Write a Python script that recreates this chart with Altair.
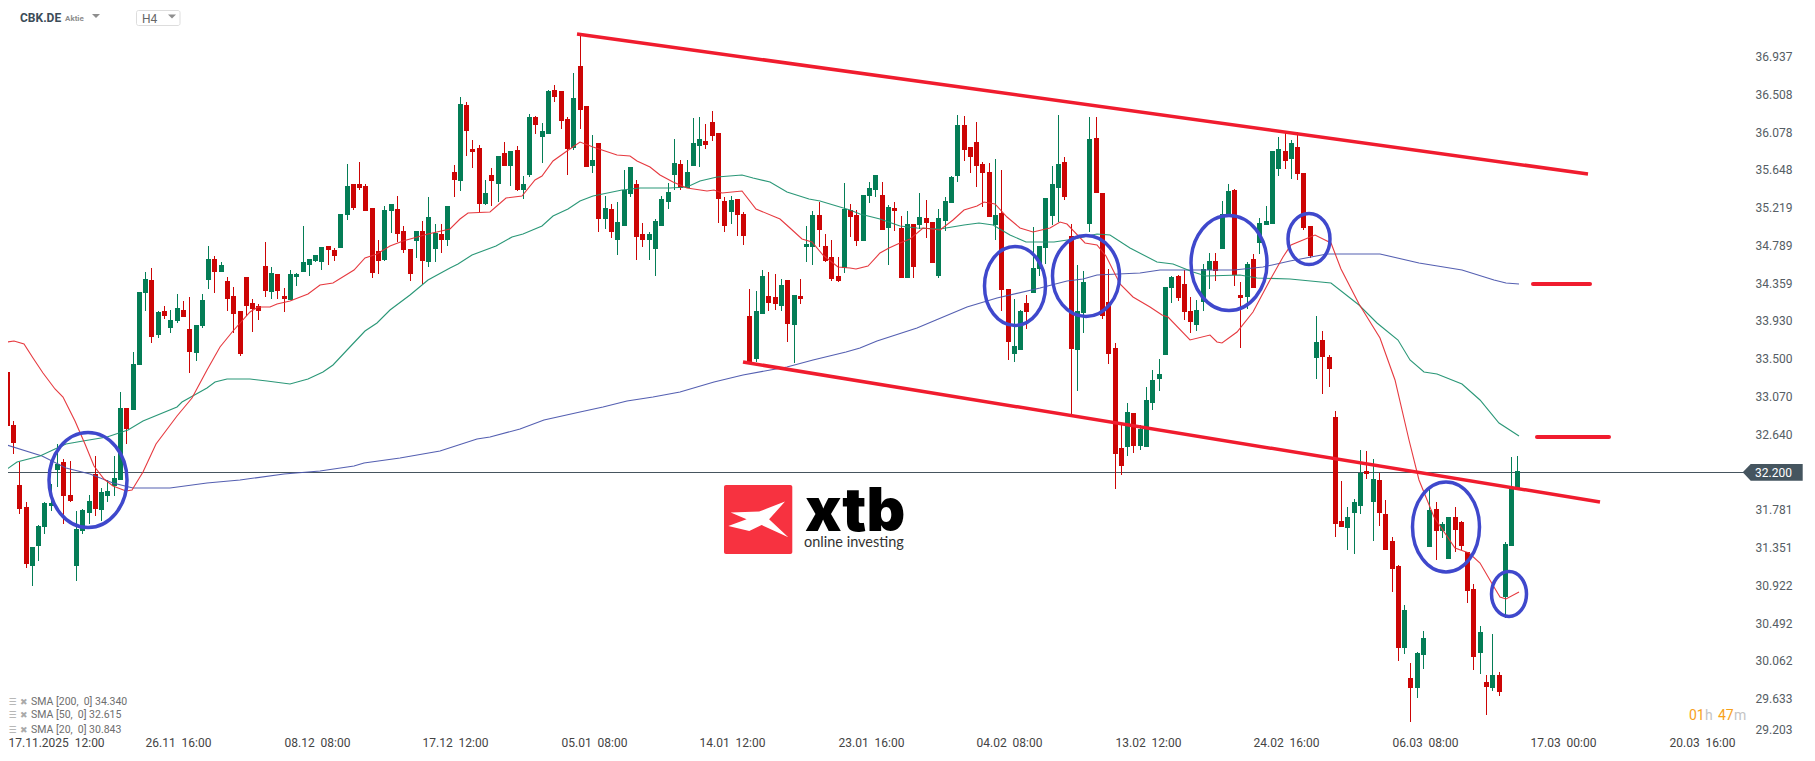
import json
import altair as alt
import pandas as pd

# ---- candles ----
direction = ("RRRRGGGGGR" "RGGGRGGGGR" "GGGRGRGGRR" "GGGRGRRRRR" "RRGRRGGGGG" "GRRGGRRRRR"
             "GGRRRGRGGR" "GRGRRRGRGR" "GRGGRGGRRR" "GRRGRGRGGG" "RRGGGGGRGG" "GRRRRGRRRG"
             "GRRGRGRGGR" "RRRGRRGGGR" "GRRGRGRRGG" "GGRRRRRGRR" "GGRGGGGGRR" "GGGRRRRRGR"
             "GGGGGGRRRG" "GGRGGRRGRG" "GGGRGRRRGR" "RRRGGGRGRR" "RRGRGGGRGG" "RRRRGRGRGGG")
highs = [33.34,32.79,32.32,31.86,31.35,31.60,31.87,32.07,32.52,32.35,
 32.33,31.76,31.79,31.95,32.39,32.02,32.11,32.39,33.12,32.93,
 33.57,34.25,34.48,34.53,34.04,34.09,34.05,34.23,34.15,34.20,
 33.88,34.23,34.78,34.66,34.60,34.42,34.31,34.04,34.42,34.18,
 34.12,34.82,34.54,34.46,34.30,34.51,34.47,35.01,34.63,34.68,
 34.77,34.78,34.75,35.14,35.71,35.48,35.73,35.48,35.21,34.85,
 35.23,35.26,35.35,35.01,34.74,34.95,35.06,35.33,35.03,35.03,
 35.23,35.70,36.47,36.41,35.98,35.93,35.53,35.66,35.80,35.96,
 35.86,35.91,35.57,36.28,36.26,36.18,36.55,36.61,36.54,36.24,
 36.74,37.19,36.37,36.04,35.95,35.35,35.25,35.28,35.64,35.68,
 35.53,35.04,34.94,35.08,35.35,35.49,35.99,35.76,35.76,36.23,
 36.24,36.16,36.31,36.06,35.33,35.35,35.31,35.16,34.29,34.27,
 34.50,34.48,34.46,34.40,34.39,34.22,34.40,35.00,35.17,35.28,
 34.91,34.85,34.65,35.49,35.25,35.19,35.36,35.51,35.58,35.51,
 35.24,35.28,35.12,35.18,35.03,35.38,35.30,35.05,35.20,35.33,
 35.57,36.27,36.26,35.90,36.19,35.73,35.72,35.77,35.64,34.29,
 34.17,34.05,34.22,34.99,34.78,35.32,35.69,36.27,35.79,35.03,
 34.56,34.49,36.24,36.24,35.38,34.52,33.67,32.74,32.99,32.88,
 32.74,33.17,33.37,33.49,34.31,34.44,34.45,34.50,34.20,34.16,
 34.57,34.70,34.70,35.29,35.48,35.43,34.37,34.59,34.69,35.10,
 35.23,35.86,36.02,36.06,35.98,36.08,35.61,35.00,33.98,33.81,
 33.54,32.90,32.10,31.81,31.90,32.46,32.45,32.35,32.19,31.89,
 31.47,31.15,30.69,30.03,30.16,30.40,32.01,31.86,31.64,31.70,
 31.81,31.65,31.30,30.93,30.45,29.90,30.36,29.93,31.41,32.38,32.39]
body_tops = [33.34,32.74,32.06,31.81,31.35,31.59,31.85,31.85,32.30,32.32,
 31.94,31.56,31.77,31.88,32.18,31.98,31.99,32.14,32.94,32.93,
 33.43,34.25,34.40,34.39,34.03,34.04,33.94,34.07,34.05,33.83,
 33.88,34.16,34.63,34.63,34.56,34.38,34.21,34.04,34.42,34.13,
 34.09,34.55,34.47,34.46,34.21,34.46,34.46,34.59,34.63,34.68,
 34.77,34.78,34.73,35.14,35.46,35.48,35.48,35.46,35.21,34.72,
 35.19,35.26,35.20,34.95,34.74,34.95,34.95,35.11,34.92,34.91,
 35.23,35.62,36.39,36.38,35.88,35.89,35.38,35.59,35.80,35.83,
 35.86,35.87,35.48,36.24,36.24,36.09,36.54,36.55,36.54,36.22,
 36.46,36.83,36.37,35.76,35.95,35.21,35.20,35.05,35.41,35.68,
 35.48,34.91,34.91,35.06,35.31,35.39,35.72,35.71,35.62,35.95,
 35.99,35.97,36.19,36.06,35.29,35.30,35.31,35.14,33.98,34.04,
 34.44,34.21,34.20,34.33,34.39,34.22,34.21,34.80,35.13,35.13,
 34.78,34.65,34.44,35.20,35.19,35.13,35.36,35.44,35.58,35.36,
 35.22,35.21,34.98,35.03,35.03,35.11,35.10,35.05,35.10,35.29,
 35.56,36.15,36.15,35.90,35.96,35.71,35.62,35.13,35.15,34.29,
 33.64,34.04,34.13,34.53,34.78,35.32,35.48,35.71,35.73,34.89,
 34.04,34.37,35.99,36.01,35.38,34.14,33.62,32.48,32.89,32.88,
 32.69,33.02,33.25,33.32,34.31,34.42,34.44,34.34,34.04,34.05,
 34.52,34.61,34.61,35.14,35.40,35.41,34.22,34.57,34.63,35.04,
 35.06,35.86,35.88,35.86,35.95,35.90,35.61,35.00,33.68,33.71,
 33.51,32.83,31.65,31.70,31.86,32.20,32.22,32.13,32.12,31.73,
 31.42,31.14,30.64,29.86,30.15,30.32,31.77,31.78,31.61,31.70,
 31.70,31.64,31.30,30.87,30.39,29.82,29.90,29.90,31.39,32.03,32.22]
body_bottoms = [32.73,32.54,31.79,31.16,31.14,31.36,31.58,31.82,32.23,31.93,
 31.88,31.14,31.53,31.74,31.78,31.77,31.93,32.05,32.12,32.69,
 32.91,33.42,34.24,33.74,33.77,33.98,33.85,33.92,33.97,33.57,
 33.56,33.87,34.39,34.48,34.48,34.18,34.00,33.55,34.09,34.06,
 34.04,34.27,34.25,34.27,34.17,34.16,34.42,34.48,34.56,34.61,
 34.59,34.73,34.66,34.75,35.13,35.21,35.44,35.18,34.47,34.61,
 34.62,35.18,34.91,34.73,34.46,34.83,34.61,34.59,34.74,34.85,
 34.85,35.53,35.52,36.09,35.85,35.26,35.25,35.52,35.48,35.69,
 35.69,35.42,35.42,35.59,36.15,36.02,36.05,36.47,36.20,35.88,
 35.89,36.33,35.68,35.69,35.08,35.08,34.94,34.85,35.01,35.37,
 34.88,34.85,34.85,34.74,35.01,35.28,35.59,35.44,35.44,35.69,
 35.91,35.93,36.03,35.31,35.00,35.16,35.13,34.89,33.46,33.49,
 34.00,34.13,34.12,34.10,33.89,33.88,34.17,34.77,34.77,34.96,
 34.61,34.40,34.38,34.53,35.11,34.83,34.83,35.35,35.42,34.96,
 34.98,35.18,34.41,34.41,34.54,35.02,35.04,34.58,34.44,35.06,
 35.27,35.57,35.87,35.79,35.69,35.61,35.11,35.02,34.28,33.68,
 33.55,33.59,34.03,34.24,34.52,34.75,35.12,35.44,35.33,33.60,
 33.59,34.01,35.03,35.38,33.98,33.55,32.41,32.27,32.49,32.50,
 32.50,32.49,32.99,33.27,33.54,34.30,34.19,34.03,33.91,33.88,
 34.14,34.50,34.49,34.74,35.14,34.45,34.19,34.20,34.30,34.81,
 35.02,35.03,35.65,35.74,35.77,35.60,34.98,34.66,33.50,33.52,
 33.38,31.61,31.58,31.57,31.74,31.82,32.18,31.86,31.74,31.32,
 31.10,30.20,30.20,29.75,29.75,30.12,31.35,31.53,31.53,31.22,
 31.55,31.36,30.85,30.10,30.15,29.76,29.75,29.70,30.78,31.36,32.03]
lows = [32.50,32.41,31.73,31.11,30.91,31.19,31.50,31.76,32.04,31.62,
 31.87,30.97,31.50,31.62,31.71,31.65,31.86,31.93,32.11,32.52,
 32.91,33.42,34.04,33.67,33.73,33.95,33.79,33.90,33.97,33.33,
 33.47,33.84,34.29,34.24,34.48,34.04,33.79,33.53,33.98,33.80,
 33.94,34.20,34.17,34.18,34.03,34.16,34.32,34.48,34.44,34.59,
 34.50,34.56,34.61,34.75,35.07,35.19,35.41,35.18,34.41,34.46,
 34.61,34.93,34.82,34.70,34.38,34.64,34.35,34.54,34.59,34.70,
 34.78,35.33,35.40,35.80,35.66,35.16,35.24,35.23,35.28,35.69,
 35.46,35.40,35.31,35.56,36.05,35.72,36.05,36.41,36.11,35.59,
 35.87,36.11,35.68,35.61,34.94,34.97,34.87,34.68,35.01,35.33,
 34.62,34.77,34.62,34.44,35.01,35.20,35.41,35.41,35.44,35.69,
 35.68,35.88,35.97,35.04,34.94,35.03,34.89,34.79,33.46,33.46,
 34.00,34.04,34.05,34.04,33.68,33.45,34.12,34.59,34.56,34.77,
 34.59,34.38,34.37,34.47,34.88,34.78,34.83,35.27,35.34,34.96,
 34.56,34.95,34.41,34.41,34.41,34.97,34.87,34.58,34.41,34.95,
 35.27,35.50,35.74,35.61,35.45,35.22,35.11,34.85,34.04,33.48,
 33.46,33.59,33.83,34.24,34.44,34.57,35.02,35.05,35.30,32.85,
 33.13,33.79,34.94,35.38,33.95,33.43,32.01,32.17,32.39,32.42,
 32.46,32.49,32.91,33.13,33.54,34.13,34.15,33.94,33.79,33.81,
 34.04,34.29,34.38,34.74,35.14,34.32,33.62,34.06,34.30,34.69,
 35.02,35.03,35.57,35.65,35.54,35.53,34.96,34.64,33.27,33.09,
 33.17,31.47,31.58,31.32,31.27,31.73,32.13,31.42,31.59,31.32,
 30.84,30.06,30.14,29.36,29.63,29.96,31.35,31.20,31.45,31.22,
 31.30,31.32,30.72,29.95,29.91,29.44,29.71,29.66,30.55,31.36,32.02]

# ---- moving averages: candle position, value ----
sma20_pos = [0,1.1,2.8,4.2,5.8,7.7,9,10.9,12.4,13.9,15.4,16.9,19,19.9,21.7,23.8,27,29.4,31.8,33.9,36,38.7,40,41.8,42.9,45,47.9,49.8,51.9,55.1,56.9,58.8,60.9,63,67,70.4,72,73.3,76.8,79.4,81.8,83.9,85,86.8,89,91.1,93.2,96.9,99,100.1,102.2,103.8,105.9,108,111.2,112.3,113.6,116.8,119.1,122.8,124.4,126.3,127.9,129.7,132.1,134,135,136.9,138.7,140.1,141.9,143.5,145.6,148.3,150.4,152,154.1,155.2,157,158.9,161,163.1,165.7,167.3,168.4,171.3,173.2,174.7,176.9,179,181.6,183.5,184.5,188,191.2,192.2,193,195.4,198,200.7,202.8,204.1,207.9,210.3,212,214.8,218.2,220.5,222.7,224.4,226.7,230,232.3,234,236.2,237.3,238.2,240.2]
sma20_val = [33.69,33.70,33.66,33.50,33.33,33.15,33.06,32.79,32.52,32.28,32.13,32.05,31.99,32.00,32.21,32.52,32.84,33.05,33.37,33.63,33.81,34.03,34.08,34.08,34.12,34.15,34.23,34.33,34.36,34.50,34.64,34.69,34.78,34.83,34.91,34.97,35.09,35.15,35.16,35.32,35.35,35.53,35.57,35.75,35.86,35.96,35.90,35.81,35.80,35.75,35.68,35.58,35.51,35.44,35.40,35.41,35.38,35.40,35.20,35.09,34.98,34.86,34.82,34.68,34.54,34.53,34.52,34.55,34.70,34.75,34.81,34.86,34.98,34.96,35.07,35.19,35.23,35.28,35.26,35.11,34.98,34.94,34.98,35.05,35.03,34.81,34.79,34.66,34.35,34.20,34.08,33.99,33.97,33.71,33.76,33.68,33.67,33.80,34.03,34.39,34.65,34.79,34.90,34.81,34.52,34.12,33.73,33.25,32.57,32.11,31.70,31.34,31.28,31.17,30.90,30.78,30.76,30.84]
sma50_pos = [0,1.6,5.3,7.7,9.5,12.2,15.9,19.3,21.7,27,27.8,31.8,33.1,35,38.7,41.3,45,47.9,50.3,51.9,54.3,56.9,58.8,60.9,64.1,67,70.4,71.7,73.9,77.8,80.2,82.1,85,86.8,89.2,91.1,93.2,97.7,100.6,105.4,108,110.1,112.8,116.8,118.6,121.3,123.9,127.4,129.2,134,135.6,138.7,141.9,144.6,148.3,152,154.4,156.7,159.4,162,166.3,169.5,173.2,175.3,178.5,182.7,185.3,188.5,190.6,195.9,198.6,203.9,210.3,214.8,217.7,221,223,225.2,227.2,231.2,234,237.1,240.2]
sma50_val = [32.24,32.32,32.39,32.47,32.52,32.56,32.61,32.68,32.79,32.95,33.00,33.16,33.23,33.26,33.27,33.24,33.21,33.26,33.34,33.42,33.61,33.81,33.90,34.05,34.22,34.39,34.53,34.57,34.67,34.78,34.88,34.91,35.01,35.12,35.20,35.29,35.35,35.41,35.44,35.44,35.45,35.52,35.56,35.59,35.55,35.51,35.39,35.31,35.29,35.19,35.14,35.09,35.01,34.98,34.97,35.02,35.04,35.02,34.90,34.82,34.82,34.86,34.91,34.90,34.75,34.60,34.57,34.48,34.44,34.45,34.41,34.40,34.36,34.11,33.90,33.71,33.48,33.34,33.32,33.21,33.03,32.76,32.62]
sma200_pos = [0,5.6,9.5,13.2,16.9,20.1,25.9,31.8,37.1,44,49.8,55.1,56.7,62.5,68.8,74.7,76.8,81.5,85.3,91.1,94.8,98.5,102.7,107,112.3,117,123.9,128.1,133.4,135.6,138.2,144.6,147.7,152.5,157.3,164.2,168.4,171,173.2,180,183.2,190.6,194.9,199.6,203.9,209.8,218.2,224.4,231.2,236.2,238.2,240.2]
sma200_val = [32.51,32.39,32.25,32.18,32.08,32.02,32.02,32.08,32.11,32.18,32.22,32.27,32.31,32.37,32.44,32.58,32.61,32.70,32.80,32.89,32.95,33.01,33.06,33.12,33.23,33.31,33.40,33.48,33.57,33.62,33.70,33.85,33.93,34.08,34.19,34.30,34.38,34.40,34.45,34.47,34.50,34.50,34.50,34.54,34.61,34.69,34.69,34.58,34.51,34.39,34.36,34.35]

# ---- drawn annotations ----
line_start_pos = [90.55, 117.0, 242.4, 243.1]
line_end_pos = [251.2, 253.1, 251.6, 254.5]
line_start_val = [37.19, 33.46, 34.34, 32.60]
line_end_val = [35.60, 31.87, 34.34, 32.60]
line_kinds = ["trend", "trend", "target", "target"]

ring_pos = [12.87, 160.2, 171.5, 194.2, 206.9, 228.6, 238.6]
ring_val = [32.115, 34.318, 34.441, 34.587, 34.862, 31.58, 30.818]
ring_wide = [78, 61, 67, 76, 42, 67, 35]
ring_tall = [95, 79, 81, 95, 51, 90, 45]

# ---- axes and texts ----
price_ticks = [37.366, 36.937, 36.508, 36.078, 35.648, 35.219, 34.789, 34.359, 33.93, 33.5, 33.07,
               32.64, 31.781, 31.351, 30.922, 30.492, 30.062, 29.633, 29.203]
x_ticks = [0.25] + [22 * k for k in range(1, 13)]
SP = "\u00a0\u00a0"
x_labels = [f"17.11.2025{SP}12:00", f"26.11{SP}16:00", f"08.12{SP}08:00", f"17.12{SP}12:00", f"05.01{SP}08:00",
            f"14.01{SP}12:00", f"23.01{SP}16:00", f"04.02{SP}08:00", f"13.02{SP}12:00", f"24.02{SP}16:00",
            f"06.03{SP}08:00", f"17.03{SP}00:00", f"20.03{SP}16:00"]
legend_rows = [f"SMA\u00a0[200,{SP}0]\u00a034.340", f"SMA\u00a0[50,{SP}0]\u00a032.615", f"SMA\u00a0[20,{SP}0]\u00a030.843"]
last_price = 32.2

RED, GREEN = "#cc0505", "#047d56"
FONT = "Roboto"
X_DOM = [0.211, 276.94]
Y_DOM = [29.203, 37.485]

n = len(direction)
assert all(len(a) == n for a in (highs, body_tops, body_bottoms, lows))
candles = pd.DataFrame({"pos": range(n), "high": highs, "top": body_tops, "bot": body_bottoms,
                        "low": lows, "dir": list(direction)})

x_axis = alt.Axis(values=x_ticks, labelExpr=json.dumps(x_labels) + "[round(datum.value/22)]",
                  labelAlign="left", labelFont=FONT, labelFontSize=12, labelColor="#444444",
                  labelPadding=1, labelOverlap=False, ticks=False, domain=False, grid=False, title=None)
y_axis = alt.Axis(values=price_ticks, orient="right", labelExpr="datum.value > 37 ? '' : format(datum.value, '.3f')",
                  labelAlign="left", labelFont=FONT, labelFontSize=12, labelColor="#555d64",
                  labelPadding=5, labelOverlap=False, labelFlush=True, ticks=False, domain=False, grid=False, title=None)
X = alt.X("pos:Q", scale=alt.Scale(domain=X_DOM, nice=False, zero=False, round=True, padding=0), axis=x_axis)
Y = alt.Y("v:Q", scale=alt.Scale(domain=Y_DOM, nice=False, zero=False, round=True), axis=y_axis)
color = alt.Color("dir:N", scale=alt.Scale(domain=["G", "R"], range=[GREEN, RED]), legend=None)


def Yf(field):
    return alt.Y(field + ":Q", scale=alt.Scale(domain=Y_DOM, nice=False, zero=False, round=True), axis=y_axis)


wicks = alt.Chart(candles).mark_rule(strokeWidth=1, xOffset=0.5, clip=True).encode(
    x=X, y=Yf("low"), y2="high:Q", color=color)
bodies = alt.Chart(candles).mark_bar(size=5, xOffset=0.5, clip=True).encode(
    x=X, y=Yf("bot"), y2="top:Q", color=color)


def sma(pos, val, col):
    d = pd.DataFrame({"pos": pos, "v": val})
    return alt.Chart(d).mark_line(color=col, strokeWidth=1.1, opacity=0.95, clip=True).encode(x=X, y=Y)


sma_layers = [sma(sma200_pos, sma200_val, "#4b56ad"), sma(sma50_pos, sma50_val, "#1f9170"),
              sma(sma20_pos, sma20_val, "#e52e35")]

price_line = alt.Chart(pd.DataFrame({"v": [last_price]})).mark_rule(
    color="#46555f", strokeWidth=1, yOffset=-0.5).encode(x=alt.value(0), x2=alt.value(1737), y=Y)

lines = pd.DataFrame({"pos": line_start_pos, "pos2": line_end_pos, "v": line_start_val,
                      "v2": line_end_val, "kind": line_kinds})
trend = alt.Chart(lines[lines.kind == "trend"]).mark_rule(color="#f01c2e", strokeWidth=3.5).encode(
    x=X, x2="pos2:Q", y=Y, y2="v2:Q")
target = alt.Chart(lines[lines.kind == "target"]).mark_rule(color="#f01c2e", strokeWidth=4, strokeCap="round").encode(
    x=X, x2="pos2:Q", y=Y, y2="v2:Q")


def ellipse_path(w, h):
    m = max(w, h)
    a, b = round(w / m, 4), round(h / m, 4)
    return f"M{-a},0A{a},{b} 0 1,0 {a},0A{a},{b} 0 1,0 {-a},0Z"


rings = pd.DataFrame({"pos": ring_pos, "v": ring_val, "id": [str(i) for i in range(len(ring_pos))],
                      "area": [max(w, h) ** 2 for w, h in zip(ring_wide, ring_tall)]})
ring_layer = alt.Chart(rings).mark_point(filled=False, strokeWidth=3.5, color="#3f48cc", opacity=1).encode(
    x=X, y=Y, size=alt.Size("area:Q", scale=None),
    shape=alt.Shape("id:N", scale=alt.Scale(domain=list(rings.id),
                                            range=[ellipse_path(w, h) for w, h in zip(ring_wide, ring_tall)]),
                    legend=None))


def label(txt, px, py, size=12, col="#444444", font=FONT, weight="normal", baseline="middle"):
    d = pd.DataFrame({"t": [txt]})
    return alt.Chart(d).mark_text(align="left", baseline=baseline, font=font, fontSize=size, color=col,
                                  fontWeight=weight).encode(x=alt.value(px - 8), y=alt.value(py - 8), text="t:N")


def glyph(shape, px, py, size, col):
    d = pd.DataFrame({"t": [0]})
    return alt.Chart(d).mark_point(shape=shape, filled=True, size=size, color=col, opacity=1, strokeWidth=0).encode(
        x=alt.value(px - 8), y=alt.value(py - 8))


def box(x0, x1, y0, y1, fill, stroke=None, radius=2):
    d = pd.DataFrame({"t": [0]})
    kw = {"stroke": stroke, "strokeWidth": 1} if stroke else {}
    return alt.Chart(d).mark_rect(fill=fill, cornerRadius=radius, **kw).encode(
        x=alt.value(x0 - 8), x2=alt.value(x1 - 8), y=alt.value(y0 - 8), y2=alt.value(y1 - 8))


TAG = "M-1,0L-0.733,-0.278L1,-0.278L1,0.278L-0.733,0.278Z"
LOGO_X = "M-0.91,-0.23L0.04,-0.26L0.9,-0.59L0.37,0L1.01,0.6L0.12,0.19L-0.29,0.39L-0.99,0.22L-0.38,0Z"
CARET = "M-1,-0.5L1,-0.5L0,0.5Z"

decor = [
    label("CBK.DE", 20, 18, 12, "#3c4c58", weight="bold"),
    label("Aktie", 65, 18.5, 8, "#8e8e8e", weight="bold"),
    glyph(CARET, 96, 16, 64, "#8e8e8e"),
    box(136.5, 180, 10.5, 25.5, "#ffffff", "#dddddd"),
    label("H4", 142, 19, 12, "#666666"),
    glyph(CARET, 172, 16.5, 64, "#8e8e8e"),
    box(724, 792.3, 485, 554, "#f73240"),
    glyph(LOGO_X, 758, 519.3, 3600, "#ffffff"),
    label("xtb", 805, 531, 60, "#000000", font="Inter", weight=900, baseline="alphabetic"),
    label("online investing", 804, 542.7, 14.5, "#333333", font="Lato"),
    glyph(TAG, 1772.7, 472.3, 3600, "#45555f"),
    label(f"{last_price:.3f}", 1755, 472.8, 12, "#ffffff"),
    label("01", 1689, 716, 14, "#f7a11a"),
    label("h", 1705, 716, 14, "#c4c4c4"),
    label("47", 1718, 716, 14, "#f7a11a"),
    label("m", 1734, 716, 14, "#c4c4c4"),
]
for row, py in zip(legend_rows, [701.7, 715.3, 729.7]):
    decor += [label("\u2630", 8.5, py, 9, "#aaaaaa", font="DejaVu Sans"),
              label("\u2716", 20, py, 9, "#aaaaaa", font="DejaVu Sans"),
              label(row, 31, py, 10.5, "#6e6e6e")]

chart = alt.layer(price_line, wicks, bodies, *sma_layers, trend, target, ring_layer, *decor).properties(
    width=1742, height=728, background="white",
    padding={"left": 0, "top": 0, "right": 56, "bottom": 14},
    autosize=alt.AutoSizeParams(type="none"),
).resolve_scale(shape="independent").configure_view(stroke=None)

chart.save("out.html", embed_options={"renderer": "svg", "actions": False})
